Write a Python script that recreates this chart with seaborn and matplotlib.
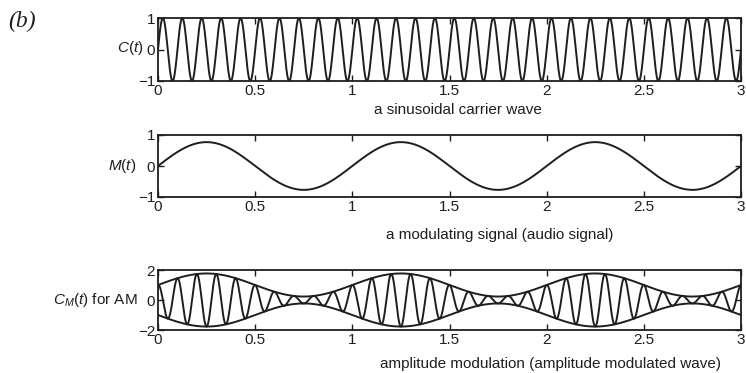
import numpy as np
import pandas as pd
import matplotlib
matplotlib.use("Agg")
import matplotlib.pyplot as plt
import seaborn as sns

# time axis and signal parameters
t_start, t_end, n_samples = 0.0, 3.0, 3001
carrier_freq = 10        # cycles per unit time (30 cycles over 0..3)
carrier_amp = 1.0
mod_freq = 1             # audio signal: 3 cycles over 0..3
mod_amp = 0.77
am_offset = 1.0

x_ticks = [0, 0.5, 1, 1.5, 2, 2.5, 3]
x_ticklabels = ["0", "0.5", "1", "1.5", "2", "2.5", "3"]
y_ticks_top = [-1, 0, 1]
y_ticks_mid = [-1, 0, 1]
y_ticks_bot = [-2, 0, 2]

captions = ["a sinusoidal carrier wave",
            "a modulating signal (audio signal)",
            "amplitude modulation (amplitude modulated wave)"]
ylabels = ["$C(t)$", "$M(t)$", "$C_M(t)$ for AM"]

t = np.linspace(t_start, t_end, n_samples)
carrier = carrier_amp * np.sin(2 * np.pi * carrier_freq * t)
modulating = mod_amp * np.sin(2 * np.pi * mod_freq * t)
envelope = am_offset + modulating
am_wave = envelope * np.cos(2 * np.pi * carrier_freq * t)

df = pd.DataFrame({"t": t, "carrier": carrier, "mod": modulating,
                   "env_up": envelope, "env_dn": -envelope, "am": am_wave})

sns.set_theme(style="ticks")
plt.rcParams["font.family"] = ["Liberation Sans", "DejaVu Sans"]
plt.rcParams["mathtext.fontset"] = "custom"
plt.rcParams["mathtext.rm"] = "Liberation Sans"
plt.rcParams["mathtext.it"] = "Liberation Sans:italic"
plt.rcParams["axes.unicode_minus"] = True

ink = "#1e1e1e"
fs = 11
fig = plt.figure(figsize=(7.46, 3.73), dpi=100)

left, width = 158 / 746, 583 / 746
boxes = [(18, 81), (135, 197), (270, 330)]
axes = []
for top, bot in boxes:
    ax = fig.add_axes([left, 1 - bot / 373, width, (bot - top) / 373])
    axes.append(ax)

sns.lineplot(data=df, x="t", y="carrier", ax=axes[0], color=ink, linewidth=1.4)
sns.lineplot(data=df, x="t", y="mod", ax=axes[1], color=ink, linewidth=1.4)
for col in ["am", "env_up", "env_dn"]:
    sns.lineplot(data=df, x="t", y=col, ax=axes[2], color=ink, linewidth=1.4)

yt = [y_ticks_top, y_ticks_mid, y_ticks_bot]
for i, ax in enumerate(axes):
    ax.set_xlim(t_start, t_end)
    ax.set_ylim(yt[i][0], yt[i][-1])
    ax.set_xticks(x_ticks)
    ax.set_xticklabels(x_ticklabels)
    ax.set_yticks(yt[i])
    ax.set_yticklabels([str(v).replace("-", "\u2212") for v in yt[i]])
    ax.tick_params(direction="in", top=True, right=True, length=4, width=1,
                   labelsize=fs, colors=ink, pad=2)
    for s in ax.spines.values():
        s.set_visible(True)
        s.set_linewidth(1.3)
        s.set_color(ink)
    ax.set_xlabel("")
    ax.set_ylabel("")

# y labels, horizontal, left of tick labels
fig.text(143 / 746, 1 - 48 / 373, ylabels[0], ha="right", va="center", fontsize=fs, color=ink)
fig.text(136 / 746, 1 - 166 / 373, ylabels[1], ha="right", va="center", fontsize=fs, color=ink)
fig.text(138 / 746, 1 - 300 / 373, ylabels[2], ha="right", va="center", fontsize=fs, color=ink)

# captions under each panel
fig.text(458 / 746, 1 - 110 / 373, captions[0], ha="center", va="center", fontsize=fs, color=ink)
fig.text(500 / 746, 1 - 235 / 373, captions[1], ha="center", va="center", fontsize=fs, color=ink)
fig.text(550 / 746, 1 - 364 / 373, captions[2], ha="center", va="center", fontsize=fs, color=ink)

fig.text(8 / 746, 1 - 21 / 373, "(b)", ha="left", va="center", fontsize=17,
         family="Liberation Serif", style="italic", color=ink)

fig.savefig("out.png", dpi=100)
